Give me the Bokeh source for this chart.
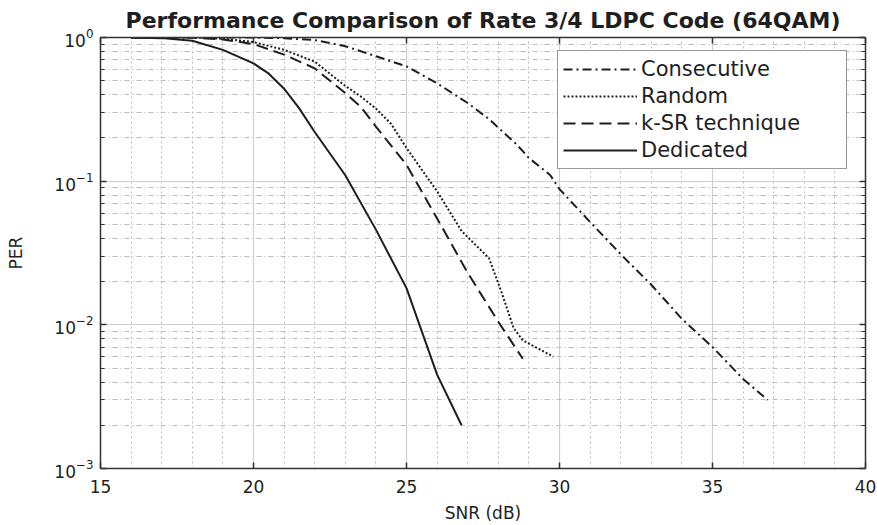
from bokeh.plotting import figure
from bokeh.models import (FixedTicker, LogTicker, LinearAxis, LogAxis, Legend,
                          LegendItem, ColumnDataSource, CustomJSTickFormatter)
from bokeh.embed import file_html
from bokeh.resources import INLINE

# ---------------- data ----------------
snr_consecutive = [16, 18, 20, 21, 22, 23, 24, 25, 26, 27, 27.7, 28.6, 29, 29.7, 30,
                   31, 32, 33, 34, 35, 36, 36.8]
per_consecutive = [1.0, 1.0, 1.0, 0.99, 0.96, 0.87, 0.74, 0.63, 0.48, 0.35, 0.27, 0.18,
                   0.145, 0.11, 0.088, 0.052, 0.031, 0.019, 0.011, 0.007, 0.0042, 0.003]

snr_random = [16, 18, 19, 20, 21, 22, 23, 23.5, 24, 24.5, 25, 26, 26.8, 27.7, 28.1,
              28.5, 28.8, 29.8]
per_random = [1.0, 1.0, 0.98, 0.93, 0.82, 0.68, 0.46, 0.39, 0.32, 0.25, 0.17, 0.085,
              0.045, 0.029, 0.017, 0.0095, 0.0078, 0.006]

snr_ksr = [16, 18, 19, 20, 21, 22, 22.5, 23, 23.5, 24, 25, 26, 27, 28, 28.8]
per_ksr = [1.0, 1.0, 0.97, 0.9, 0.76, 0.61, 0.5, 0.41, 0.33, 0.24, 0.13, 0.055, 0.023,
           0.0105, 0.0058]

snr_dedicated = [16, 17, 18, 19, 20, 20.5, 21, 21.5, 22, 23, 24, 25, 26, 26.8]
per_dedicated = [1.0, 0.99, 0.95, 0.82, 0.66, 0.56, 0.44, 0.32, 0.22, 0.11, 0.046, 0.018,
                 0.0045, 0.002]

series_names = ["Consecutive", "Random", "k-SR technique", "Dedicated"]
x_ticks = [15, 20, 25, 30, 35, 40]
x_minor = list(range(15, 41))

TITLE = "Performance Comparison of Rate 3/4 LDPC Code (64QAM)"
X_LABEL = "SNR (dB)"
Y_LABEL = "PER"

FONT = "DejaVu Sans"
INK = "#1e1e1e"

p = figure(width=877, height=525, x_range=(15, 40), y_range=(1e-3, 1),
           y_axis_type="log", output_backend="svg", toolbar_location=None,
           min_border_left=100, min_border_right=12, min_border_top=37,
           min_border_bottom=57, background_fill_color="white",
           border_fill_color="white")

# title
p.title.text = TITLE
p.title.align = "center"
p.title.text_font = FONT
p.title.text_font_size = "22px"
p.title.text_font_style = "bold"
p.title.text_color = INK
p.title.standoff = 1

# frame
p.outline_line_color = "#333333"
p.outline_line_width = 1.5
p.outline_line_alpha = 1

xt = FixedTicker(ticks=x_ticks, minor_ticks=x_minor)
yt = LogTicker(num_minor_ticks=10)

# bottom axis
xa = p.xaxis[0]
xa.ticker = xt
xa.axis_label = X_LABEL
xa.axis_label_text_font = FONT
xa.axis_label_text_font_size = "17px"
xa.axis_label_text_font_style = "normal"
xa.axis_label_text_color = INK
xa.axis_label_standoff = 7
xa.major_label_text_font = FONT
xa.major_label_text_font_size = "17px"
xa.major_label_text_color = INK
xa.major_label_standoff = 7
xa.major_tick_in = 6
xa.major_tick_out = 0
xa.minor_tick_line_color = None
xa.axis_line_color = "#333333"
xa.major_tick_line_color = "#333333"
xa.major_tick_line_width = 1.5

# left axis
ya = p.yaxis[0]
ya.ticker = yt
ya.axis_label = Y_LABEL
ya.axis_label_text_font = FONT
ya.axis_label_text_font_size = "17px"
ya.axis_label_text_font_style = "normal"
ya.axis_label_text_color = INK
ya.axis_label_standoff = 25
ya.major_label_text_font = FONT
ya.major_label_text_font_size = "17px"
ya.major_label_text_color = INK
ya.major_label_standoff = 7
ya.major_tick_in = 6
ya.major_tick_out = 0
ya.minor_tick_in = 4
ya.minor_tick_out = 0
ya.axis_line_color = "#333333"
ya.major_tick_line_color = "#333333"
ya.minor_tick_line_color = "#333333"
ya.major_tick_line_width = 1.5
ya.minor_tick_line_width = 1.2

# top and right axes (ticks only)
blank = CustomJSTickFormatter(code="return '';")
top = LinearAxis(ticker=xt, formatter=blank, major_label_standoff=0,
                 major_tick_in=6, major_tick_out=0, minor_tick_line_color=None,
                 axis_line_color="#333333", major_tick_line_color="#333333",
                 major_tick_line_width=1.5)
right = LogAxis(ticker=yt, formatter=blank, major_label_standoff=0,
                major_tick_in=6, major_tick_out=0, minor_tick_in=4, minor_tick_out=0,
                axis_line_color="#333333", major_tick_line_color="#333333",
                minor_tick_line_color="#333333", major_tick_line_width=1.5,
                minor_tick_line_width=1.2)
p.add_layout(top, "above")
p.add_layout(right, "right")

# grids
p.xgrid.ticker = xt
p.xgrid.grid_line_color = "#cfcfcf"
p.xgrid.grid_line_width = 1.2
p.xgrid.minor_grid_line_color = "#bdbdbd"
p.xgrid.minor_grid_line_dash = "2 3"
p.xgrid.minor_grid_line_width = 1

p.ygrid.ticker = yt
p.ygrid.grid_line_color = "#cfcfcf"
p.ygrid.grid_line_width = 1.2
p.ygrid.minor_grid_line_color = "#bdbdbd"
p.ygrid.minor_grid_line_dash = "5 3 1 3"
p.ygrid.minor_grid_line_width = 1

# curves
series = [
    (snr_consecutive, per_consecutive, "9 4 2 4"),
    (snr_random, per_random, "2 2"),
    (snr_ksr, per_ksr, "12 6"),
    (snr_dedicated, per_dedicated, "solid"),
]
items = []
for name, (xs, ys, dash) in zip(series_names, series):
    src = ColumnDataSource(dict(x=xs, y=ys))
    r = p.line("x", "y", source=src, line_color=INK, line_width=2, line_dash=dash)
    items.append(LegendItem(label=name, renderers=[r]))

legend = Legend(items=items, location=(457, 299), orientation="vertical",
                label_text_font=FONT, label_text_font_size="21px",
                label_text_color=INK, glyph_width=74, glyph_height=26,
                label_height=26, label_width=200, spacing=1, padding=5, margin=0,
                label_standoff=4, border_line_color="#333333", border_line_width=1.5,
                background_fill_color="white", background_fill_alpha=1)
p.add_layout(legend, "center")

open("out.html", "w").write(file_html(p, INLINE))
